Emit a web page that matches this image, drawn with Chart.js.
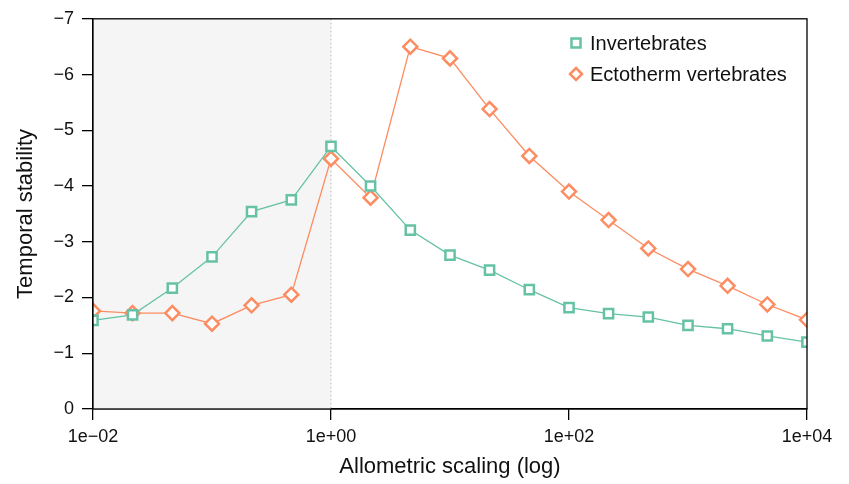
<!DOCTYPE html>
<html>
<head>
<meta charset="utf-8">
<script src="https://cdn.jsdelivr.net/npm/chart.js@4.4.1/dist/chart.umd.min.js"></script>
<style>
  html, body { margin: 0; padding: 0; background: #fff; }
  #wrap { width: 849px; height: 484px; }
</style>
</head>
<body>
<div id="wrap"><canvas id="grafico"></canvas></div>
<script>
// escala alométrica (log), pasos de 1/3 de década
const escalas = [0.01, 0.0215, 0.0464, 0.1, 0.215, 0.464, 1, 2.15, 4.64, 10, 21.5, 46.4, 100, 215, 464, 1000, 2150, 4640, 10000];
const invertebrados = [-1.59, -1.69, -2.17, -2.73, -3.54, -3.75, -4.71, -4.0, -3.21, -2.76, -2.49, -2.14, -1.82, -1.71, -1.65, -1.5, -1.44, -1.31, -1.2];
const ectotermos = [-1.76, -1.72, -1.72, -1.53, -1.86, -2.05, -4.49, -3.79, -6.5, -6.29, -5.38, -4.54, -3.9, -3.39, -2.88, -2.51, -2.21, -1.875, -1.6];
const ticksX = [0.01, 1, 100, 10000];
const ticksY = [0, -1, -2, -3, -4, -5, -6, -7];
const zonaSombreada = [0.01, 1];

const verde = "#66c2a5";
const naranja = "#fc8d62";
const fuente = "'Liberation Sans', Arial, sans-serif";

function puntos(valores) {
  return escalas.map((x, i) => ({ x: x, y: valores[i] }));
}

function menos(txt) {
  return String(txt).replace("-", "\u2212");
}

function etiquetaLog(v) {
  const e = Math.round(Math.log10(v));
  const s = e < 0 ? "\u2212" : "+";
  return "1e" + s + String(Math.abs(e)).padStart(2, "0");
}

// fondo gris y línea punteada
const sombra = {
  id: "sombra",
  beforeDatasetsDraw(chart) {
    const { ctx, chartArea, scales } = chart;
    const x0 = scales.x.getPixelForValue(zonaSombreada[0]);
    const x1 = scales.x.getPixelForValue(zonaSombreada[1]);
    ctx.save();
    ctx.fillStyle = "#f5f5f5";
    ctx.fillRect(x0, chartArea.top, x1 - x0, chartArea.bottom - chartArea.top);
    ctx.strokeStyle = "#b5b5b5";
    ctx.lineWidth = 1;
    ctx.setLineDash([1.5, 2.5]);
    ctx.beginPath();
    ctx.moveTo(x1, chartArea.top);
    ctx.lineTo(x1, chartArea.bottom);
    ctx.stroke();
    ctx.restore();
  }
};

// caja y leyenda
const caja = {
  id: "caja",
  afterDraw(chart) {
    const { ctx, chartArea } = chart;
    ctx.save();
    ctx.strokeStyle = "#000";
    ctx.lineWidth = 1.3;
    ctx.strokeRect(chartArea.left, chartArea.top, chartArea.right - chartArea.left, chartArea.bottom - chartArea.top);

    const items = chart.data.datasets;
    const lx = 576, ly = [43, 74];
    items.forEach((ds, i) => {
      ctx.strokeStyle = ds.borderColor;
      ctx.fillStyle = "#fff";
      ctx.lineWidth = 2.5;
      ctx.beginPath();
      if (ds.pointStyle === "rect") {
        ctx.rect(lx - 4.5, ly[i] - 4.5, 9, 9);
      } else {
        ctx.moveTo(lx, ly[i] - 6);
        ctx.lineTo(lx + 6, ly[i]);
        ctx.lineTo(lx, ly[i] + 6);
        ctx.lineTo(lx - 6, ly[i]);
        ctx.closePath();
      }
      ctx.fill();
      ctx.stroke();
      ctx.fillStyle = "#111";
      ctx.font = "20px " + fuente;
      ctx.textBaseline = "middle";
      ctx.textAlign = "left";
      ctx.fillText(ds.label, 590, ly[i] + 1);
    });
    ctx.restore();
  }
};

new Chart(document.getElementById("grafico"), {
  type: "line",
  data: {
    datasets: [
      {
        label: "Invertebrates",
        data: puntos(invertebrados),
        borderColor: verde,
        backgroundColor: "#fff",
        borderWidth: 1.3,
        pointStyle: "rect",
        pointRadius: 6.5,
        pointBorderWidth: 2.5,
        pointBackgroundColor: "#fff",
        pointBorderColor: verde
      },
      {
        label: "Ectotherm vertebrates",
        data: puntos(ectotermos),
        borderColor: naranja,
        backgroundColor: "#fff",
        borderWidth: 1.3,
        pointStyle: "rectRot",
        pointRadius: 7,
        pointBorderWidth: 2.5,
        pointBackgroundColor: "#fff",
        pointBorderColor: naranja
      }
    ]
  },
  options: {
    responsive: true,
    maintainAspectRatio: false,
    animation: false,
    layout: { padding: { top: 17, right: 42, left: 0, bottom: 0 } },
    plugins: {
      legend: { display: false },
      tooltip: { enabled: false }
    },
    scales: {
      x: {
        type: "logarithmic",
        min: 0.01,
        max: 10000,
        afterBuildTicks: (s) => { s.ticks = ticksX.map(v => ({ value: v })); },
        afterFit: (s) => { s.height = 75; },
        border: { display: true, color: "#000", width: 1.3 },
        grid: { drawOnChartArea: false, drawTicks: true, tickLength: 11, color: "#000", lineWidth: 1.3 },
        ticks: {
          color: "#111",
          font: { family: fuente, size: 18 },
          padding: 6,
          maxRotation: 0,
          autoSkip: false,
          callback: (v) => etiquetaLog(v)
        },
        title: {
          display: true,
          text: "Allometric scaling (log)",
          color: "#111",
          font: { family: fuente, size: 22 },
          padding: { top: 0, bottom: 4 }
        }
      },
      y: {
        min: -7,
        max: 0,
        reverse: true,
        afterBuildTicks: (s) => { s.ticks = ticksY.map(v => ({ value: v })); },
        afterFit: (s) => { s.width = 93; },
        border: { display: true, color: "#000", width: 1.3 },
        grid: { drawOnChartArea: false, drawTicks: true, tickLength: 11, color: "#000", lineWidth: 1.3 },
        ticks: {
          color: "#111",
          font: { family: fuente, size: 18 },
          padding: 8,
          callback: (v) => menos(v)
        },
        title: {
          display: true,
          text: "Temporal stability",
          color: "#111",
          font: { family: fuente, size: 22 },
          padding: { top: 13, bottom: 0 }
        }
      }
    }
  },
  plugins: [sombra, caja]
});
</script>
</body>
</html>
